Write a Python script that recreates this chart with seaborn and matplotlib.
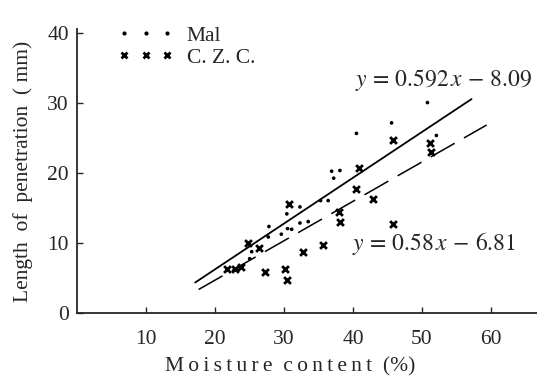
import numpy as np
import matplotlib
matplotlib.use("Agg")
import matplotlib.pyplot as plt
import pandas as pd
import seaborn as sns
from matplotlib.lines import Line2D

# dane
mal_x = [45.6, 50.8, 52.1, 40.5, 36.9, 38.1, 37.2, 32.3, 35.3, 36.4,
         30.4, 27.8, 32.3, 33.5, 29.6, 30.5, 31.1, 27.7, 25.3, 25.0]
mal_y = [27.2, 30.1, 25.4, 25.7, 20.3, 20.4, 19.3, 15.2, 16.1, 16.1,
         14.2, 12.4, 12.9, 13.1, 11.3, 12.1, 12.0, 10.9, 8.8, 7.8]
czc_x = [45.8, 51.2, 51.3, 45.8, 40.8, 40.5, 42.9, 38.0, 38.1, 30.7,
         32.8, 35.7, 24.8, 26.3, 21.7, 22.9, 23.8, 27.2, 30.1, 30.4]
czc_y = [24.8, 24.3, 23.0, 12.8, 20.7, 17.8, 16.3, 14.5, 13.1, 15.6,
         8.8, 9.7, 10.0, 9.4, 6.4, 6.4, 6.6, 5.9, 6.3, 4.7]

# końce linii regresji (tak jak narysowane)
mal_line_x = [17.1, 57.2]
mal_line_y = [4.4, 30.6]
czc_line_x = [17.6, 59.4]
czc_line_y = [3.4, 26.9]

x_ticks = [10, 20, 30, 40, 50, 60]
y_ticks = [0, 10, 20, 30, 40]

sns.set_style("ticks")
plt.rcParams['font.family'] = ['Liberation Serif', 'DejaVu Serif']
plt.rcParams['mathtext.fontset'] = 'stix'


def spaced(s):
    # rozstrzelony tekst jak w oryginale
    return '\u2009'.join(s)


df = pd.DataFrame({
    'x': mal_x + czc_x,
    'y': mal_y + czc_y,
    'kind': ['Mal'] * len(mal_x) + ['C.Z.C.'] * len(czc_x),
})

fig = plt.figure(figsize=(5.37, 3.80), dpi=100)
ax = fig.add_axes([0.144, 0.1755, 0.856, 0.748])

sns.scatterplot(data=df[df.kind == 'Mal'], x='x', y='y', ax=ax,
                marker='o', s=7, color='black', edgecolor='none', legend=False)
sns.scatterplot(data=df[df.kind == 'C.Z.C.'], x='x', y='y', ax=ax,
                marker='x', s=24, color='black', linewidth=2.0, legend=False)

ax.plot(mal_line_x, mal_line_y, color='black', lw=1.3)
ax.plot(czc_line_x, czc_line_y, color='black', lw=1.1, dashes=(18, 7))

ax.set_xlim(0, 66.7)
ax.set_ylim(0, 40.6)
ax.set_xticks(x_ticks)
ax.set_yticks(y_ticks)
ax.tick_params(direction='in', length=4, width=1, labelsize=15.5)
ax.tick_params(axis='x', pad=12)
ax.tick_params(axis='y', pad=6)
sns.despine(ax=ax)
ax.spines['left'].set_linewidth(1.3)
ax.spines['bottom'].set_linewidth(1.3)

ax.set_xlabel(spaced('Moisture') + '  ' + spaced('content') + '  (%)',
              fontsize=15.5, labelpad=6, x=0.462)
ax.set_ylabel('Length  of  penetration  ( mm)', fontsize=15.5, labelpad=10)

ax.text(40.3, 33.3, r'$y\,=\,0.592\,x\,-\,8.09$', fontsize=17,
        va='center', ha='left')
ax.text(39.9, 10.0, r'$y\,=\,0.58\,x\,-\,6.81$', fontsize=17,
        va='center', ha='left')

handles = [
    Line2D([], [], ls='none', marker='o', ms=3, color='black', mec='none'),
    Line2D([], [], ls='none', marker='x', ms=5, mew=2.0, color='black'),
]
ax.legend(handles, ['Mal', 'C. Z. C.'], loc='upper left', bbox_to_anchor=(0.065, 1.05),
          frameon=False, numpoints=3, handlelength=2.6, handletextpad=0.6,
          labelspacing=0.1, borderpad=0, fontsize=15.5)

fig.savefig('out.png', dpi=100)
